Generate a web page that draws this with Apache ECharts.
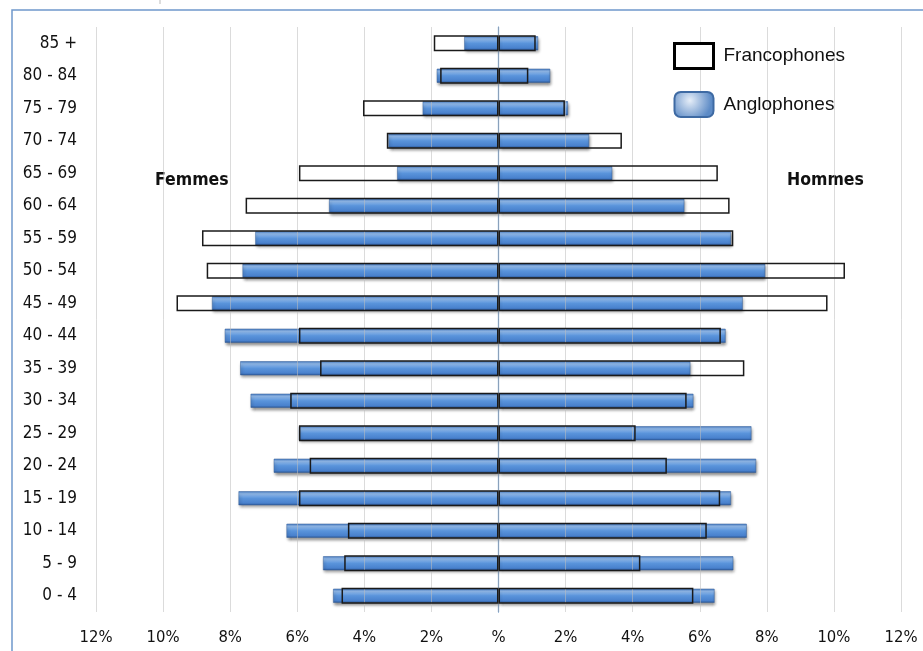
<!DOCTYPE html>
<html>
<head>
<meta charset="utf-8">
<script src="https://cdn.jsdelivr.net/npm/echarts@6/dist/echarts.min.js"></script>
<style>
    html, body { margin: 0; padding: 0; background: #fff; }
    #main { width: 923px; height: 651px; }
</style>
</head>
<body>
<div id="main"></div>
<script>
// age groups, bottom to top
var ages = ['0 - 4', '5 - 9', '10 - 14', '15 - 19', '20 - 24', '25 - 29', '30 - 34', '35 - 39', '40 - 44',
    '45 - 49', '50 - 54', '55 - 59', '60 - 64', '65 - 69', '70 - 74', '75 - 79', '80 - 84', '85 +'];

// % of population
var francoFemmes = [4.68, 4.60, 4.49, 5.95, 5.63, 5.95, 6.21, 5.32, 5.95, 9.60, 8.70, 8.84, 7.54, 5.95, 3.33, 4.04, 1.74, 1.93];
var francoHommes = [5.81, 4.23, 6.21, 6.61, 5.02, 4.09, 5.61, 7.33, 6.63, 9.81, 10.33, 7.00, 6.89, 6.54, 3.68, 1.98, 0.89, 1.11];
var angloFemmes = [4.93, 5.23, 6.32, 7.75, 6.70, 5.95, 7.39, 7.70, 8.16, 8.54, 7.63, 7.25, 5.05, 3.02, 3.28, 2.26, 1.84, 1.02];
var angloHommes = [6.44, 7.00, 7.40, 6.93, 7.68, 7.54, 5.81, 5.72, 6.77, 7.28, 7.95, 6.93, 5.54, 3.39, 2.70, 2.07, 1.54, 1.18];

var narrow = "'DejaVu Sans Condensed', 'Liberation Sans Narrow', sans-serif";

function neg(arr) {
    return arr.map(function (v) { return -v; });
}

var chart = echarts.init(document.getElementById('main'));

var blueFill = new echarts.graphic.LinearGradient(0, 0, 0, 1, [
    { offset: 0, color: '#447ac4' },
    { offset: 0.18, color: '#94bdee' },
    { offset: 0.5, color: '#5a94db' },
    { offset: 0.85, color: '#4981cd' },
    { offset: 1, color: '#2a5798' }
]);

var blueStyle = {
    color: blueFill,
    borderColor: '#355f99',
    borderWidth: 0.5,
    shadowColor: 'rgba(0,0,0,0.45)',
    shadowBlur: 3,
    shadowOffsetX: 1,
    shadowOffsetY: 2
};

var fillStyle = { color: '#ffffff' };
var outlineStyle = { color: 'rgba(0,0,0,0)', borderColor: '#1a1a1a', borderWidth: 1.5 };

function yAx(show, line) {
    return {
        type: 'category',
        data: ages,
        axisTick: { show: false },
        axisLine: line ? { show: true, onZero: true, lineStyle: { color: '#4a7ebb', width: 1.2 } } : { show: false, onZero: false },
        axisLabel: show ? { show: true, margin: 19, color: '#111', fontFamily: narrow, fontSize: 17 } : { show: false },
        splitLine: { show: false }
    };
}

var option = {
    animation: false,
    grid: { left: 96, right: 22, top: 27, bottom: 39 },
    legend: {
        orient: 'vertical',
        left: 673,
        top: 42,
        padding: 0,
        itemWidth: 39,
        itemHeight: 25,
        itemGap: 21,
        selectedMode: false,
        textStyle: { fontFamily: "'Liberation Sans', Arial, sans-serif", fontSize: 19, color: '#111', padding: [0, 0, 0, 5] },
        data: [
            { name: 'Francophones', icon: 'rect', itemStyle: { color: '#fff', borderColor: '#000', borderWidth: 3 } },
            {
                name: 'Anglophones', icon: 'roundRect',
                itemStyle: {
                    color: new echarts.graphic.RadialGradient(0.4, 0.35, 0.8, [
                        { offset: 0, color: '#e6eef8' },
                        { offset: 1, color: '#5d8bc6' }
                    ]),
                    borderColor: '#3e6aa3', borderWidth: 2
                }
            }
        ]
    },
    xAxis: {
        type: 'value',
        min: -12,
        max: 12,
        interval: 2,
        z: 3,
        axisLine: { show: false },
        axisTick: { show: false },
        splitLine: { lineStyle: { color: 'rgba(190,190,190,0.55)' } },
        axisLabel: {
            margin: 17,
            color: '#111',
            fontFamily: narrow,
            fontSize: 16.5,
            formatter: function (v) {
                return v === 0 ? '%' : Math.abs(v) + '%';
            }
        }
    },
    yAxis: [yAx(true, false), yAx(false, true), yAx(false, false)],
    graphic: [
        { type: 'rect', shape: { x: 12, y: 10, width: 1000, height: 700 }, style: { fill: 'none', stroke: '#6f98cc', lineWidth: 1.5 }, silent: true },
        { type: 'line', shape: { x1: 160, y1: 0, x2: 160, y2: 4 }, style: { stroke: '#bbb', lineWidth: 1 } },
        { type: 'text', left: 155, top: 171, style: { text: 'Femmes', fontFamily: narrow, fontWeight: 'bold', fontSize: 17.5, fill: '#111' } },
        { type: 'text', left: 787, top: 171, style: { text: 'Hommes', fontFamily: narrow, fontWeight: 'bold', fontSize: 17.5, fill: '#111' } }
    ],
    series: [
        { name: 'ff', type: 'bar', yAxisIndex: 0, barWidth: 16, barGap: '-100%', z: 1, data: neg(francoFemmes), itemStyle: fillStyle },
        { name: 'fh', type: 'bar', yAxisIndex: 0, barWidth: 16, barGap: '-100%', z: 1, data: francoHommes, itemStyle: fillStyle },
        { name: 'Anglophones', type: 'bar', yAxisIndex: 1, barWidth: 14, barGap: '-100%', z: 2, data: neg(angloFemmes), itemStyle: blueStyle },
        { name: 'Anglophones', type: 'bar', yAxisIndex: 1, barWidth: 14, barGap: '-100%', z: 2, data: angloHommes, itemStyle: blueStyle },
        { name: 'Francophones', type: 'bar', yAxisIndex: 2, barWidth: 16, barGap: '-100%', z: 4, data: neg(francoFemmes), itemStyle: outlineStyle },
        { name: 'Francophones', type: 'bar', yAxisIndex: 2, barWidth: 16, barGap: '-100%', z: 4, data: francoHommes, itemStyle: outlineStyle }
    ]
};

chart.setOption(option);
</script>
</body>
</html>
